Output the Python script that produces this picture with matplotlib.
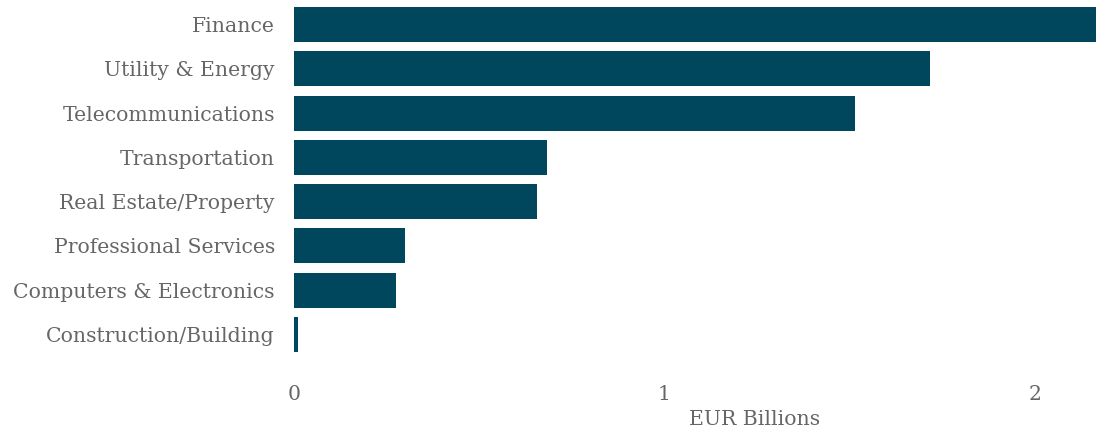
import matplotlib
matplotlib.use("Agg")
import matplotlib.pyplot as plt

categories = ["Finance", "Utility & Energy", "Telecommunications", "Transportation",
              "Real Estate/Property", "Professional Services", "Computers & Electronics",
              "Construction/Building"]
values = [2.165, 1.717, 1.514, 0.683, 0.656, 0.300, 0.275, 0.011]
xticks = [0, 1, 2]
xtick_labels = ["0", "1", "2"]

bar_color = "#00465c"
text_color = "#666666"
font = "DejaVu Serif"
fs = 14.7

W, H = 1096, 436
fig = plt.figure(figsize=(W / 100, H / 100), dpi=100)
ax = fig.add_axes([294 / W, (H - 356.6) / H, (W - 294) / W, (356.6 - 2.35) / H])

pos = list(range(len(categories)))
ax.barh(pos, values, height=0.79, color=bar_color)
ax.set_ylim(len(categories) - 0.5, -0.5)
ax.set_xlim(0, max(values))

ax.set_yticks(pos)
ax.set_yticklabels(categories, fontsize=fs, color=text_color, family=font)
ax.set_xticks(xticks)
ax.set_xticklabels(xtick_labels, fontsize=fs, color=text_color, family=font)
ax.tick_params(axis="y", length=0, pad=13.7)
ax.tick_params(axis="x", length=0, pad=20.5)

ax.set_xlabel("EUR Billions", fontsize=fs, color=text_color, family=font)
ax.xaxis.set_label_coords((755 - 294) / (W - 294), -(419 - 356.6) / (356.6 - 2.35), transform=ax.transAxes)
ax.xaxis.label.set_verticalalignment("center")

for s in ax.spines.values():
    s.set_visible(False)
ax.grid(False)

fig.savefig("out.png", dpi=100)
